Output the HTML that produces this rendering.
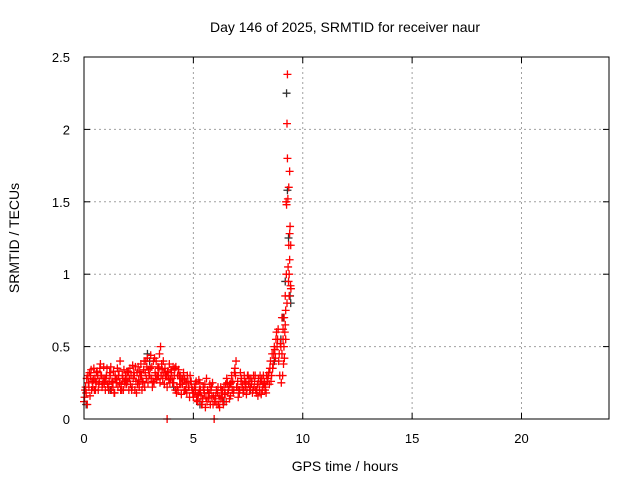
<!DOCTYPE html>
<html><head><meta charset="utf-8"><style>
body{margin:0;background:#fff}
svg{display:block;font-family:"Liberation Sans",sans-serif}
</style></head><body>
<svg id="chart" width="640" height="480" viewBox="0 0 640 480" xmlns="http://www.w3.org/2000/svg">
<rect width="640" height="480" fill="#fff"/>
<text x="345" y="32" font-size="14" text-anchor="middle">Day 146 of 2025, SRMTID for receiver naur</text>
<text x="345" y="471" font-size="14" text-anchor="middle">GPS time / hours</text>
<text transform="translate(19,238) rotate(-90)" font-size="14" text-anchor="middle">SRMTID / TECUs</text>
<g id="grid"></g><g id="ticks"></g><g id="marks"></g>
<rect x="84" y="57" width="525" height="362" fill="none" stroke="#000" stroke-width="1"/>
</svg>
<script>
const xTicks=[0,5,10,15,20];
const yTicks=[0,0.5,1,1.5,2,2.5];
const yTickLabels=["0","0.5","1","1.5","2","2.5"];
const timesA=[0,0.1,0.2,0.3,0.4,0.5,0.6,0.7,0.8,0.9,1,1.1,1.2,1.3,1.4,1.5,1.6,1.7,1.8,1.9,2,2.1,2.2,2.3,2.4,2.5,2.6,2.7,2.8,2.9,3,3.1,3.2,3.3,3.4,3.5,3.6,3.7,3.8,3.9,4,4.1,4.2,4.3,4.4,4.5,4.6,4.7,4.8,4.9,5,5.1,5.2,5.3,5.4,5.5,5.6,5.7,5.8,5.9,6,6.1,6.2,6.3,6.4,6.5,6.6,6.7,6.8,6.9,7,7.1,7.2,7.3,7.4,7.5,7.6,7.7,7.8,7.9,8,8.1,8.2,8.3,8.4,8.5,8.6,8.7,8.8,8.9,9,9.1];
const valuesA=[0.12,0.18,0.25,0.3,0.22,0.28,0.33,0.26,0.3,0.36,0.28,0.22,0.3,0.25,0.18,0.27,0.33,0.24,0.2,0.3,0.26,0.35,0.22,0.3,0.18,0.27,0.38,0.25,0.32,0.42,0.3,0.36,0.25,0.4,0.3,0.5,0.28,0.35,0.22,0.38,0.32,0.25,0.36,0.2,0.3,0.24,0.28,0.18,0.22,0.26,0.15,0.2,0.12,0.25,0.1,0.18,0.28,0.14,0.2,0.1,0.12,0.18,0.08,0.15,0.22,0.12,0.2,0.16,0.26,0.35,0.22,0.18,0.28,0.2,0.25,0.3,0.22,0.18,0.26,0.2,0.24,0.17,0.3,0.22,0.28,0.35,0.45,0.5,0.6,0.4,0.5,0.62];
const timesB=[0.05,0.15,0.25,0.35,0.45,0.55,0.65,0.75,0.85,0.95,1.05,1.15,1.25,1.35,1.45,1.55,1.65,1.75,1.85,1.95,2.05,2.15,2.25,2.35,2.45,2.55,2.65,2.75,2.85,2.95,3.05,3.15,3.25,3.35,3.45,3.55,3.65,3.8,3.85,3.95,4.05,4.15,4.25,4.35,4.45,4.55,4.65,4.75,4.85,4.95,5.05,5.15,5.25,5.35,5.45,5.55,5.65,5.75,5.85,5.95,6.05,6.15,6.25,6.35,6.45,6.55,6.65,6.75,6.85,6.95,7.05,7.15,7.25,7.35,7.45,7.55,7.65,7.75,7.85,7.95,8.05,8.15,8.25,8.35,8.45,8.55,8.65,8.75,8.85,8.95,9.05];
const valuesB=[0.2,0.1,0.32,0.2,0.35,0.25,0.2,0.38,0.24,0.28,0.35,0.26,0.2,0.33,0.28,0.22,0.4,0.3,0.26,0.24,0.2,0.3,0.28,0.36,0.24,0.33,0.2,0.4,0.28,0.34,0.44,0.26,0.32,0.3,0.45,0.38,0.32,0,0.3,0.28,0.25,0.35,0.22,0.3,0.17,0.32,0.2,0.26,0.3,0.2,0.22,0.13,0.27,0.16,0.22,0.08,0.2,0.24,0.15,0,0.2,0.1,0.22,0.12,0.18,0.25,0.14,0.3,0.2,0.4,0.15,0.32,0.24,0.26,0.2,0.28,0.24,0.3,0.2,0.16,0.3,0.2,0.25,0.3,0.32,0.26,0.38,0.42,0.55,0.3,0.7];
const timesD=[0.025,0.125,0.225,0.325,0.425,0.525,0.625,0.725,0.825,0.925,1.025,1.125,1.225,1.325,1.425,1.525,1.625,1.725,1.825,1.925,2.025,2.125,2.225,2.325,2.425,2.525,2.625,2.725,2.825,2.925,3.025,3.125,3.225,3.325,3.425,3.525,3.625,3.725,3.825,3.925,4.025,4.125,4.225,4.325,4.425,4.525,4.625,4.725,4.825,4.925,5.025,5.125,5.225,5.325,5.425,5.525,5.625,5.725,5.825,5.925,6.025,6.125,6.225,6.325,6.425,6.525,6.625,6.725,6.825,6.925,7.025,7.125,7.225,7.325,7.425,7.525,7.625,7.725,7.825,7.925,8.025,8.125,8.225,8.325,8.425,8.525,8.625,8.725,8.825,8.925];
const valuesD=[0.15,0.28,0.22,0.34,0.27,0.2,0.3,0.35,0.22,0.25,0.3,0.2,0.36,0.22,0.3,0.35,0.25,0.2,0.34,0.27,0.33,0.24,0.37,0.2,0.32,0.22,0.3,0.34,0.4,0.25,0.35,0.22,0.42,0.27,0.35,0.3,0.4,0.3,0.33,0.25,0.28,0.3,0.18,0.34,0.24,0.27,0.2,0.3,0.15,0.22,0.18,0.26,0.17,0.2,0.14,0.24,0.12,0.18,0.22,0.16,0.16,0.22,0.14,0.2,0.17,0.28,0.22,0.25,0.18,0.3,0.26,0.2,0.22,0.3,0.17,0.24,0.28,0.2,0.3,0.24,0.2,0.28,0.24,0.18,0.3,0.4,0.35,0.48,0.5,0.45];
const timesE=[0.075,0.175,0.275,0.375,0.475,0.575,0.675,0.775,0.875,0.975,1.075,1.175,1.275,1.375,1.475,1.575,1.675,1.775,1.875,1.975,2.075,2.175,2.275,2.375,2.475,2.575,2.675,2.775,2.875,2.975,3.075,3.175,3.275,3.375,3.475,3.575,3.675,3.775,3.875,3.975,4.075,4.175,4.275,4.375,4.475,4.575,4.675,4.775,4.875,4.975,5.075,5.175,5.275,5.375,5.475,5.575,5.675,5.775,5.875,5.975,6.075,6.175,6.275,6.375,6.475,6.575,6.675,6.775,6.875,6.975,7.075,7.175,7.275,7.375,7.475,7.575,7.675,7.775,7.875,7.975,8.075,8.175,8.275,8.375,8.475,8.575,8.675,8.775,8.875,8.975];
const valuesE=[0.22,0.3,0.16,0.26,0.2,0.32,0.24,0.3,0.28,0.2,0.24,0.32,0.26,0.18,0.25,0.3,0.2,0.28,0.24,0.32,0.28,0.2,0.32,0.26,0.36,0.3,0.26,0.22,0.36,0.3,0.28,0.4,0.3,0.36,0.25,0.34,0.24,0.3,0.27,0.34,0.36,0.2,0.3,0.24,0.28,0.2,0.25,0.22,0.26,0.18,0.24,0.16,0.2,0.1,0.2,0.15,0.18,0.1,0.25,0.12,0.1,0.16,0.2,0.1,0.24,0.18,0.24,0.2,0.32,0.22,0.2,0.26,0.18,0.22,0.3,0.2,0.26,0.22,0.18,0.28,0.26,0.22,0.2,0.26,0.24,0.3,0.45,0.55,0.62,0.52];
const timesC=[9.1,9.15,9.2,9.25,9.3,9.28,9.26,9.3,9.4,9.36,9.24,9.42,9.45,9.4,9.35,9.38,9.22,9.44,9.12,9.18,9.32,9.4,9.05,9.08,9.14,9.2,9.28,9.33,9.38,9.46,9.02,9.16,9.22,9.36];
const valuesC=[0.55,0.7,0.85,1.0,2.38,2.04,1.48,1.8,1.71,1.6,1.5,1.33,1.2,1.1,0.95,0.85,0.75,0.92,0.38,0.6,1.52,1.28,0.45,0.3,0.5,0.65,0.8,1.05,1.0,0.9,0.25,0.42,0.55,1.2];
const timesK=[0.1,1.2,2.9,3.0,4.1,5.3,6.4,7.6,8.7,9.0,9.1,9.2,9.26,9.3,9.35,9.42,9.45];
const valuesK=[0.1,0.2,0.45,0.4,0.22,0.1,0.12,0.2,0.4,0.55,0.7,0.95,2.25,1.58,1.25,0.85,0.8];
const X0=84,X1=609,Y0=419,Y1=57;
const xs=v=>X0+(v/24)*(X1-X0);
const ys=v=>Y0-(v/2.5)*(Y0-Y1);
const NS="http://www.w3.org/2000/svg";
function mk(tag,attrs,parent){const e=document.createElementNS(NS,tag);for(const k in attrs)e.setAttribute(k,attrs[k]);parent.appendChild(e);return e;}
const grid=document.getElementById('grid'),ticks=document.getElementById('ticks'),marks=document.getElementById('marks');
xTicks.forEach(t=>{const x=xs(t);
 if(t>0){const g=mk('line',{x1:x,x2:x,y1:Y0,y2:Y1,stroke:'#a0a0a0','stroke-dasharray':'2,3'},grid);
 
 }
 mk('line',{x1:x,x2:x,y1:Y0,y2:Y0-6,stroke:'#000'},ticks);
 mk('line',{x1:x,x2:x,y1:Y1,y2:Y1+6,stroke:'#000'},ticks);
 const l=mk('text',{x:x,y:443,'font-size':13,'text-anchor':'middle'},ticks);l.textContent=t;
 
 
});
yTicks.forEach((t,i)=>{const y=ys(t);
 if(t>0&&t<2.5){const g=mk('line',{x1:X0,x2:X1,y1:y,y2:y,stroke:'#a0a0a0','stroke-dasharray':'2,3'},grid);
 
 }
 mk('line',{x1:X0,x2:X0+6,y1:y,y2:y,stroke:'#000'},ticks);
 mk('line',{x1:X1,x2:X1-6,y1:y,y2:y,stroke:'#000'},ticks);
 const l=mk('text',{x:70,y:y+5,'font-size':13,'text-anchor':'end'},ticks);l.textContent=yTickLabels[i];
 
 
});
function plus(t,v,color,name){const x=xs(t),y=ys(v);
 const p=mk('path',{d:`M${x-4} ${y}H${x+4}M${x} ${y-4}V${y+4}`,stroke:color,'stroke-width':1.3,fill:'none'},marks);
 
 }
timesK.forEach((t,i)=>plus(t,valuesK[i],'#333','point-black'));
timesA.forEach((t,i)=>plus(t,valuesA[i],'#ff0000','point-red'));
timesB.forEach((t,i)=>plus(t,valuesB[i],'#ff0000','point-red'));
timesD.forEach((t,i)=>plus(t,valuesD[i],'#ff0000','point-red'));
timesE.forEach((t,i)=>plus(t,valuesE[i],'#ff0000','point-red'));
timesC.forEach((t,i)=>plus(t,valuesC[i],'#ff0000','point-red'));
</script>
</body></html>
